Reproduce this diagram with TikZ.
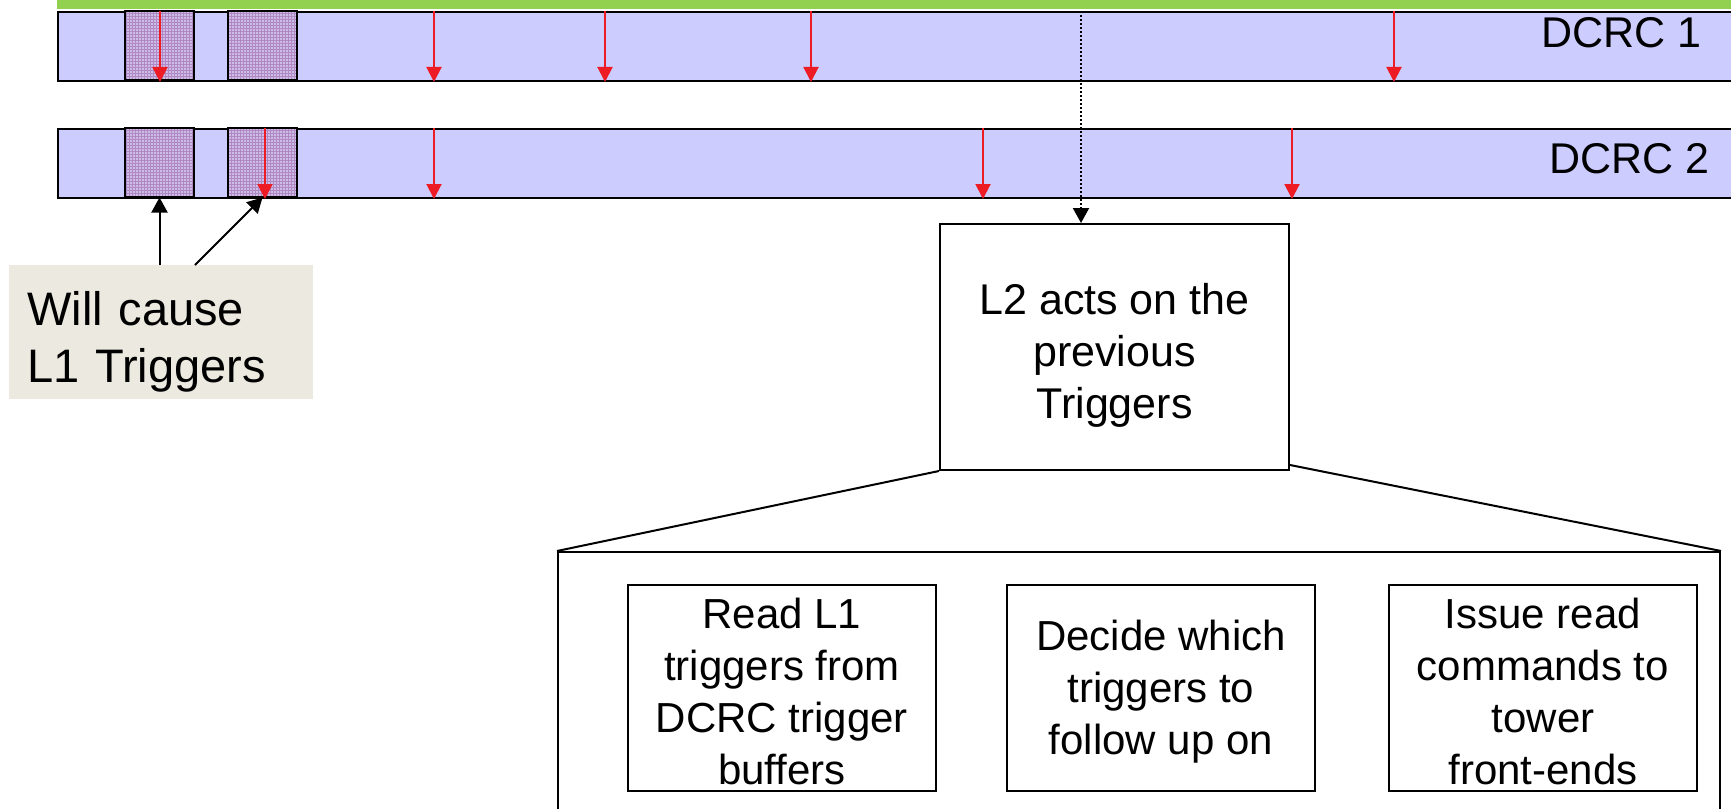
\documentclass[tikz,border=0pt]{standalone}
\usepackage{fontspec}
\setmainfont{Liberation Sans}
\usepackage{xcolor}
\usetikzlibrary{arrows.meta, positioning, patterns}
\definecolor{barblue}{HTML}{CCCCFF}
\definecolor{topgreen}{HTML}{92D050}
\definecolor{notebeige}{HTML}{ECEAE0}
\definecolor{bufpurple}{HTML}{CDBCE6}
\definecolor{bufgrid}{HTML}{B088C4}
\definecolor{trigred}{HTML}{ED1C24}
\tikzset{
    bar/.style={draw, line width=2pt, fill=barblue, minimum width=1720pt, minimum height=69pt, anchor=north west, inner sep=0pt}, % one DCRC row
    buffer/.style={draw, line width=2pt, preaction={fill=bufpurple}, preaction={pattern=grid, pattern color=bufgrid}, minimum width=69pt, minimum height=69pt, inner sep=0pt},
    trig/.style={draw=trigred, line width=2pt, -{Triangle[width=15pt,length=15pt]}}, % red trigger marks
    blackarr/.style={line width=2pt, -{Triangle[width=16pt,length=15pt]}},
    box/.style={draw, line width=2pt, align=center, inner sep=0pt},
    bigtxt/.style={font=\fontsize{43pt}{52pt}\selectfont},
    midtxt/.style={font=\fontsize{42pt}{52pt}\selectfont},
    task/.style={box, midtxt, minimum width=308pt, minimum height=206pt},
}
\newcommand{\toppad}[1]{\rule{0pt}{#1}}
\begin{document}
\begin{tikzpicture}[x=1pt, y=-1pt]
    \useasboundingbox (0,0) rectangle (1731,808);
    \clip (0,0) rectangle (1731,808);

    % Bars
    \fill[topgreen] (57,0) rectangle (1731,9);
    \node[bar] (D1) at (57,11) {};
    \node[bar] (D2) at (57,128) {};
    \node[bigtxt, anchor=base east] (N1) at (1705,48) {DCRC 1};
    \node[bigtxt, anchor=base east] (N2) at (1713,173) {DCRC 2};

    % Buffers
    \node[buffer] (B11) at (159.5,45.5) {};
    \node[buffer] (B12) at (262.5,45.5) {};
    \node[buffer] (B21) at (159.5,162) {};
    \node[buffer] (B22) at (262.5,162) {};

    % Triggers
    \foreach \x in {160,434,605,811,1394}
        \draw[trig] (\x,0 |- D1.north) -- (\x,0 |- D1.south);
    \foreach \x in {265,434,983,1292}
        \draw[trig] (\x,0 |- D2.north) -- (\x,0 |- D2.south);

    % Note
    \node[fill=notebeige, anchor=north west, minimum width=304pt, minimum height=134pt,
          text width=268pt, inner xsep=18pt, align=left, font=\fontsize{47pt}{57pt}\selectfont]
          (WC) at (9,265) {\toppad{53pt}Will cause\\L1 Triggers};
    \draw[blackarr] (WC.north -| B21.south) -- (B21.south);
    \draw[blackarr] (WC.north -| B21.east) -- (B22.south);

    % L2
    \node[box, bigtxt, minimum width=349pt, minimum height=246pt] (L2) at (1114.5,347)
        {\toppad{47pt}L2 acts on the\\previous\\Triggers};
    \coordinate (dtop) at (1081,15);
    \draw[blackarr, dotted] (dtop) -- (dtop |- L2.north);

    \node[draw, line width=2pt, anchor=north west, minimum width=1162pt, minimum height=320pt] (F) at (557,551) {};
    \draw[line width=2pt] (L2.south west) -- (F.north west);
    \draw[line width=2pt] ([yshift=6pt]L2.south east) -- (F.north east);

    % Tasks
    \node[task] (R) at (782,688)
        {\toppad{38pt}Read L1\\triggers from\\DCRC trigger\\buffers};
    \node[task] (S) [right=69pt of R]
        {\toppad{38pt}Decide which\\triggers to\\follow up on};
    \node[task] (I) [right=72pt of S]
        {\toppad{38pt}Issue read\\commands to\\tower\\front-ends};
\end{tikzpicture}
\end{document}
